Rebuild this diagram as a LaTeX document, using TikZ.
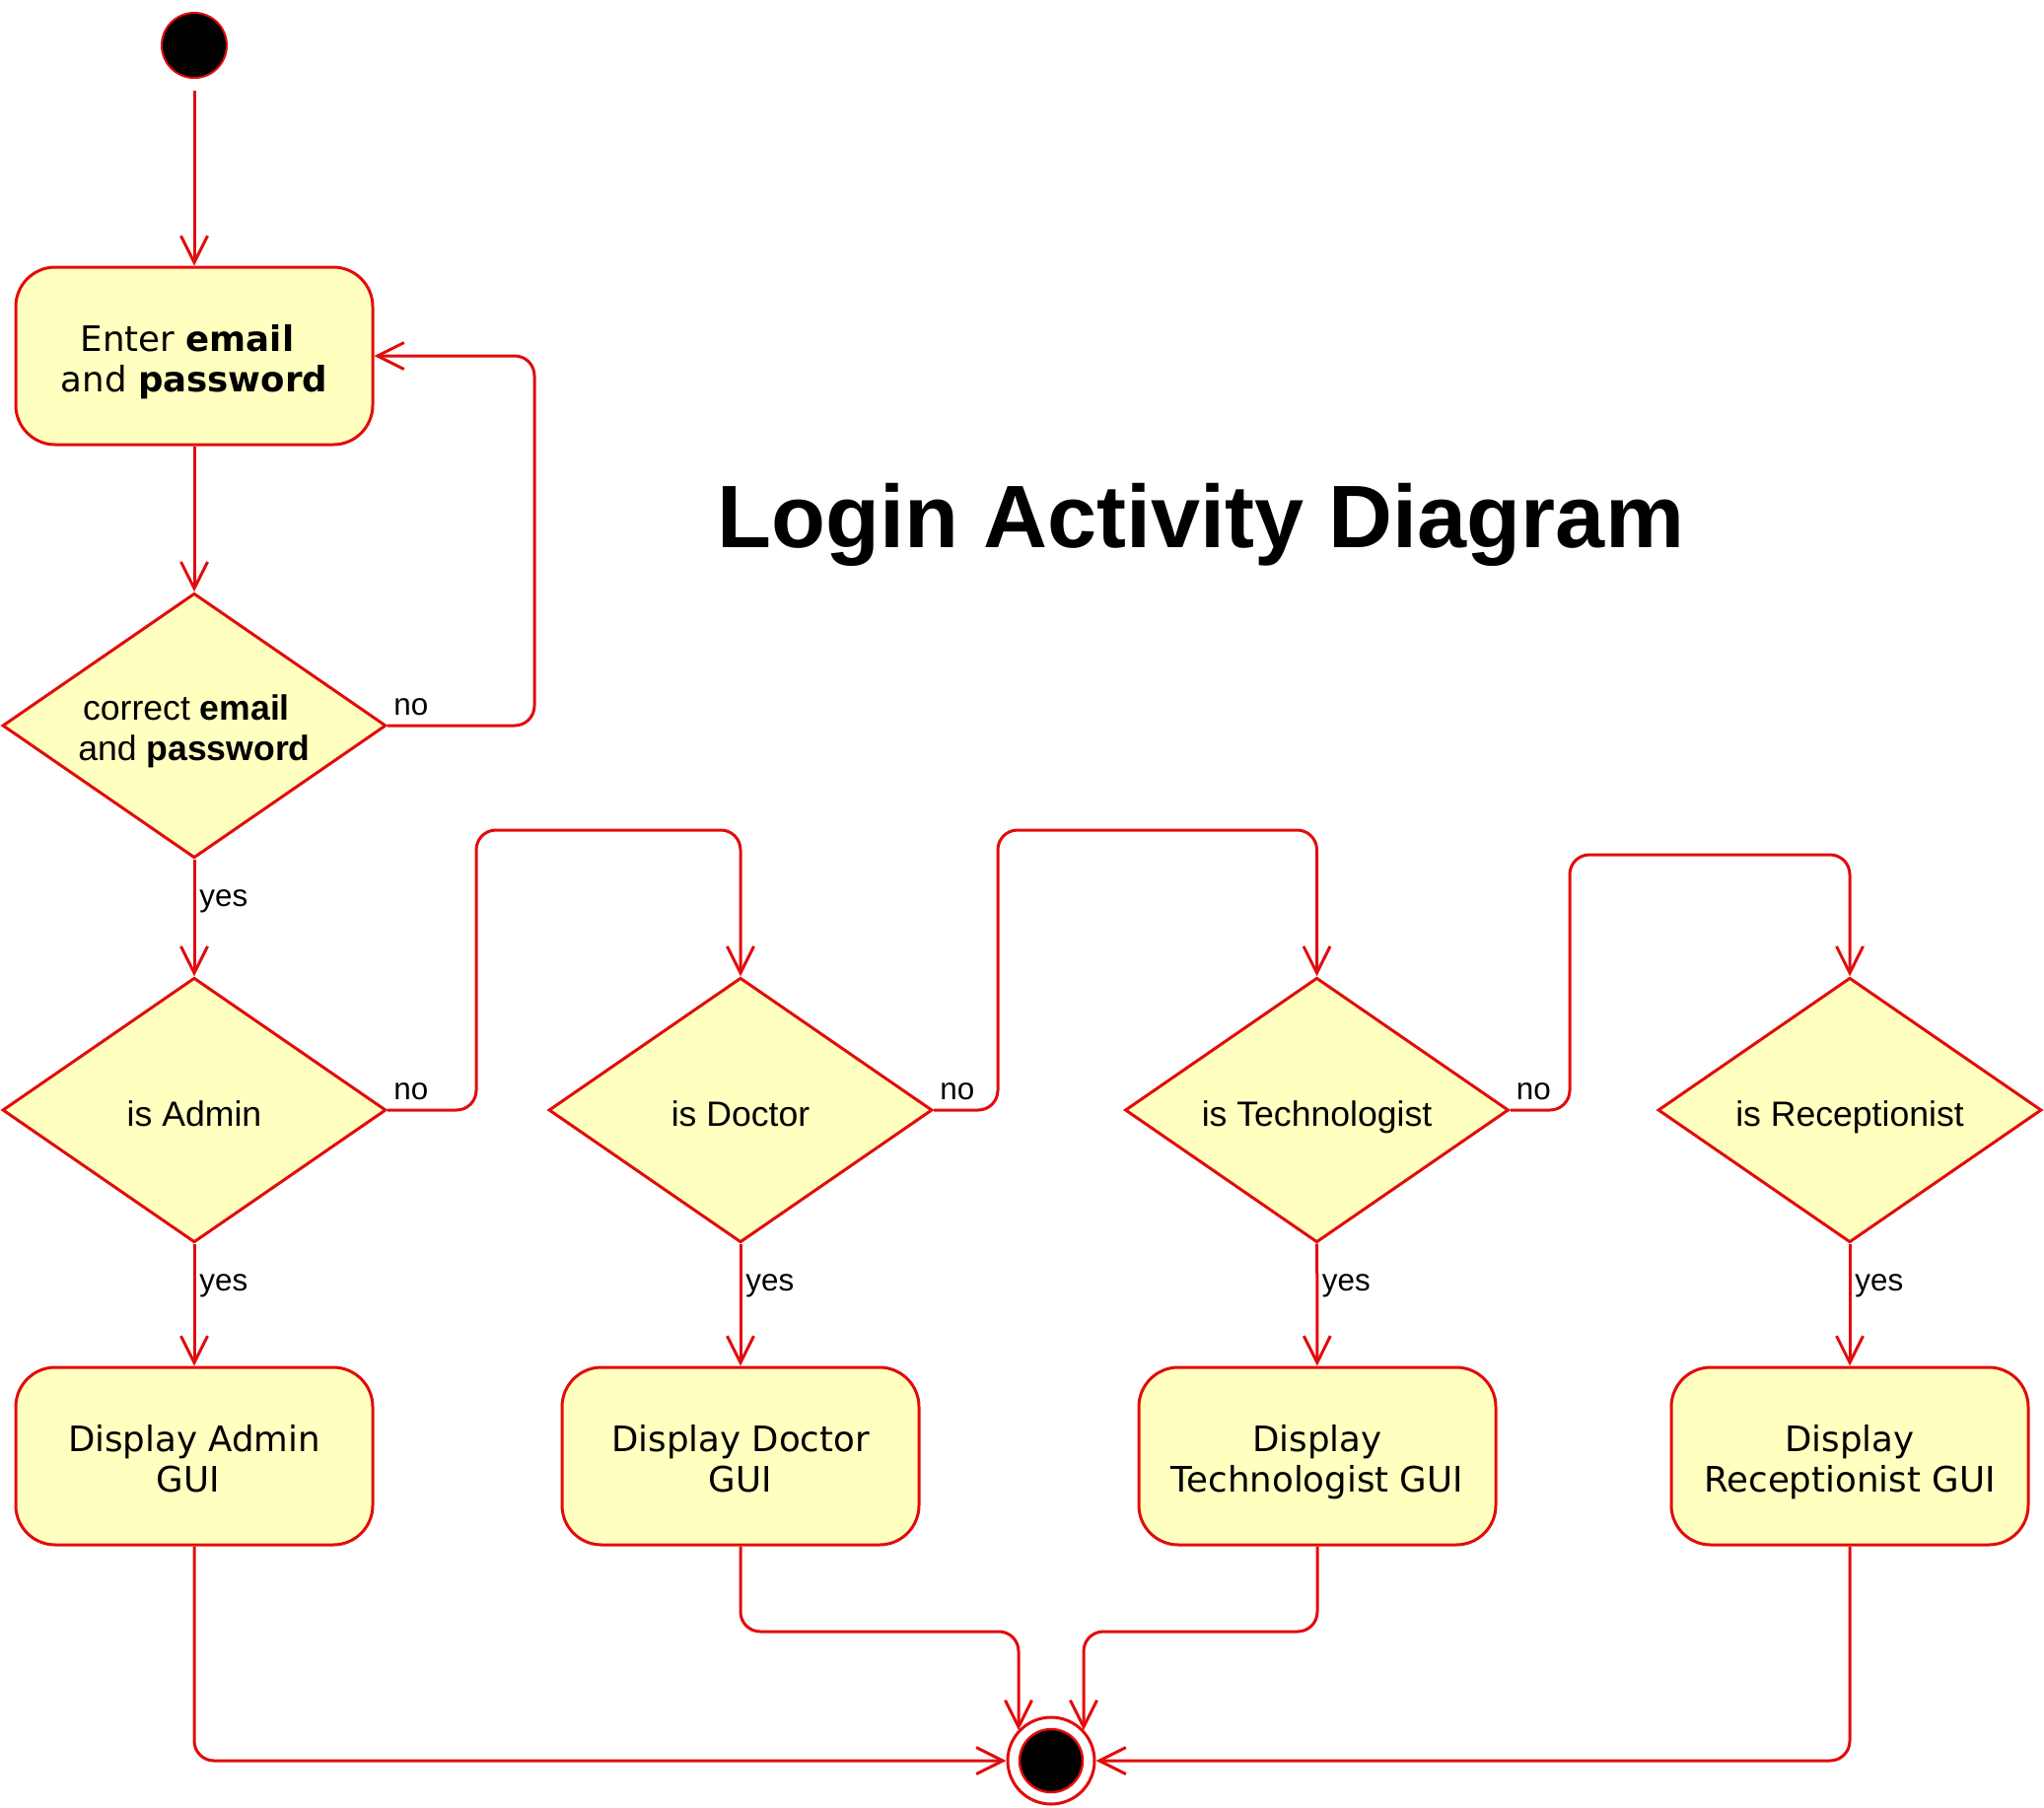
\documentclass[tikz,border=0pt]{standalone}
\usepackage{fontspec}
\setmainfont{Liberation Sans}
\newfontfamily\dvfont{DejaVu Sans}
\usetikzlibrary{shapes.geometric,arrows.meta,calc}
\definecolor{umlred}{RGB}{226,12,12}
\definecolor{umlfill}{RGB}{255,255,192}
\newcommand\boxtop{\rule{0pt}{20.75pt}}
\newcommand\diatop{\rule{0pt}{19.85pt}}
\newcommand\linebot{\rule[-5pt]{0pt}{5pt}}
\newcommand\oneline{\rule[-5pt]{0pt}{26.7pt}}
\begin{document}
\begin{tikzpicture}[x=0.5pt,y=-0.5pt,
  actbox/.style={draw=umlred,fill=umlfill,line width=1.5pt,rounded corners=20pt,minimum width=181pt,minimum height=90pt,inner sep=0pt,align=center,font=\dvfont\fontsize{17.8}{20.25}\selectfont},
  decbox/.style={diamond,draw=umlred,fill=umlfill,line width=1.5pt,minimum width=194.5pt,minimum height=134.25pt,shape aspect=1.45,inner sep=0pt,align=center,font=\fontsize{17.8}{20.85}\selectfont},
  flow/.style={draw=umlred,line width=1.5pt,rounded corners=10pt,-{Straight Barb[length=13.5pt,width=13.5pt]}},
  lbl/.style={inner sep=0pt,font=\fontsize{15.7}{18}\selectfont},
]
\useasboundingbox (0,0) rectangle (2073,1833);

\node[circle,fill=black,draw=umlred,line width=1pt,minimum size=33pt,inner sep=0pt] (start) at (197,46) {};
\node[actbox] (enter) at (197,361) {\boxtop Enter \textbf{email}\hspace*{7pt}\\and \textbf{password}\linebot};
\node[decbox] (c1) at (197,736) {\diatop correct \textbf{email}\hspace*{8pt}\\and \textbf{password}\linebot};
\node[decbox] (dadm) at (197,1126) {\oneline is Admin};
\node[decbox] (ddoc) at (751,1126) {\oneline is Doctor};
\node[decbox] (dtec) at (1335.5,1126) {\oneline is Technologist};
\node[decbox] (drec) at (1876,1126) {\oneline is Receptionist};
\node[actbox] (badm) at (197,1477) {\boxtop Display Admin\\GUI\hspace*{6.5pt}\linebot};
\node[actbox] (bdoc) at (751,1477) {\boxtop Display Doctor\\GUI\linebot};
\node[actbox] (btec) at (1336,1477) {\boxtop Display\\Technologist GUI\linebot};
\node[actbox] (brec) at (1876,1477) {\boxtop Display\\Receptionist GUI\linebot};
\node[circle,draw=umlred,fill=white,line width=1.5pt,minimum size=44pt,inner sep=0pt] (end) at (1066,1786) {};
\node[circle,fill=black,draw=umlred,line width=1.2pt,minimum size=32pt,inner sep=0pt] (endin) at (end) {};

\node[font=\bfseries\fontsize{45}{54}\selectfont] (title) at (1218,532) {Login Activity Diagram};

\draw[flow,shorten <=6pt] (start) -- (enter);
\draw[flow] (enter) -- (c1);
\draw[flow] (c1.east) -| (542,361) -- (enter.east);
\draw[flow] (c1) -- (dadm);
\draw[flow] (dadm.east) -| (483,842) -| (ddoc.north);
\draw[flow] (ddoc.east) -| (1012,842) -| (dtec.north);
\draw[flow] (dtec.east) -| (1592,867) -| (drec.north);
\draw[flow] (dadm) -- (badm);
\draw[flow] (ddoc) -- (bdoc);
\draw[flow] (dtec) -- (btec);
\draw[flow] (drec) -- (brec);
\draw[flow] (badm.south) |- (end.west);
\draw[flow] (brec.south) |- (end.east);
\draw[flow] (bdoc.south) |- (1033,1655) -- ($(end)+(-33,-31)$);
\draw[flow] (btec.south) |- (1099,1655) -- ($(end)+(33,-31)$);

\node[lbl,anchor=base west] (n1) at ($(c1.east)+(6,-11)$) {no};
\node[lbl,anchor=base west] (n2) at ($(dadm.east)+(6,-11)$) {no};
\node[lbl,anchor=base west] (n3) at ($(ddoc.east)+(6,-11)$) {no};
\node[lbl,anchor=base west] (n4) at ($(dtec.east)+(6,-11)$) {no};
\node[lbl,anchor=west] (y1) at ($(c1.south)+(5,43)$) {yes};
\node[lbl,anchor=west] (y2) at ($(dadm.south)+(5,43)$) {yes};
\node[lbl,anchor=west] (y3) at ($(ddoc.south)+(5,43)$) {yes};
\node[lbl,anchor=west] (y4) at ($(dtec.south)+(5,43)$) {yes};
\node[lbl,anchor=west] (y5) at ($(drec.south)+(5,43)$) {yes};
\end{tikzpicture}
\end{document}
